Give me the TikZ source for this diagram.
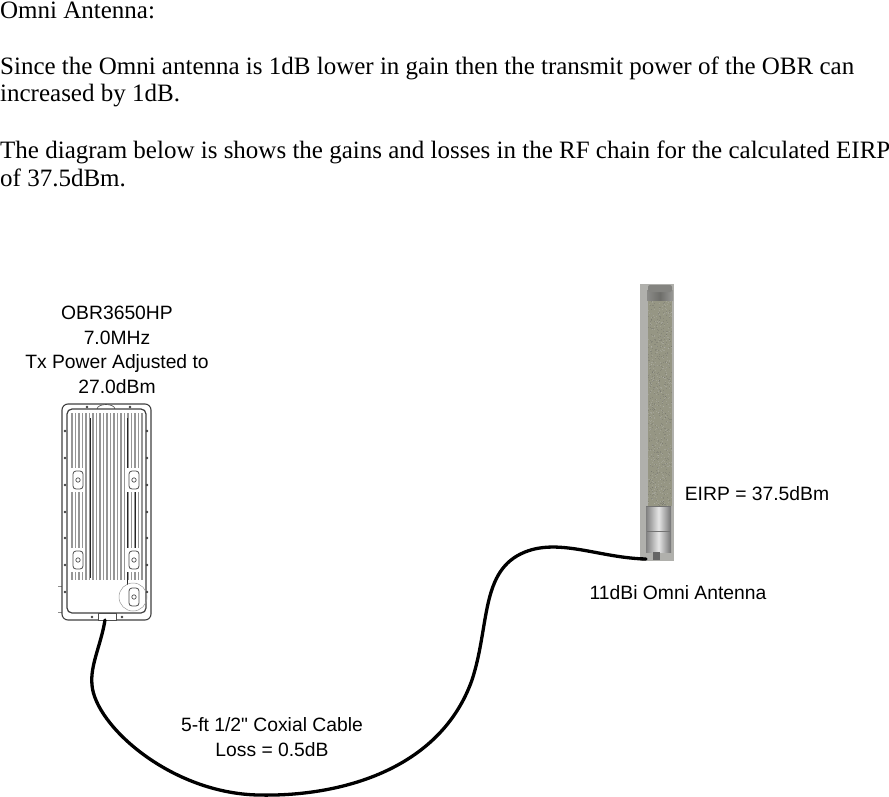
\documentclass[tikz,border=0pt]{standalone}
\usepackage{fontspec}
\setmainfont{Liberation Serif}
\newfontfamily\labelfont{Liberation Sans}
\definecolor{photobg}{RGB}{176,176,172}
\definecolor{tubecol}{RGB}{150,150,132}
\definecolor{capcol}{RGB}{110,110,106}
\definecolor{fincol}{RGB}{150,150,150}
\tikzset{
 bodytext/.style={anchor=base west,inner sep=0pt,font=\fontsize{25}{25}\selectfont},
 lbl/.style={align=center,inner sep=0pt,font=\labelfont\fontsize{19.3}{24.5}\selectfont},
 shell/.style={draw=black!75,line width=1.1pt,fill=white},
 fin/.style={draw=fincol,line width=1.5pt},
 darkline/.style={draw=black!85,line width=0.9pt},
 thin line/.style={draw=black!45,line width=0.5pt},
 screw/.style={fill=black!75,draw=none},
 cable/.style={draw=black,line width=3.3pt,line cap=round}
}
\begin{document}
\begin{tikzpicture}[x=1pt,y=-1pt]
\useasboundingbox (0,0) rectangle (889,797);
% text
\node[bodytext] (t1) at (0,19) {Omni Antenna:};
\node[bodytext] (t2) at (0,75) {Since the Omni antenna is 1dB lower in gain then the transmit power of the OBR can};
\node[bodytext] (t3) at (0,102) {increased by 1dB.};
\node[bodytext] (t4) at (0,158) {The diagram below is shows the gains and losses in the RF chain for the calculated EIRP};
\node[bodytext] (t5) at (0,186) {of 37.5dBm.};
% labels
\node[lbl] (obr) at (117,350) {OBR3650HP\\7.0MHz\\Tx Power Adjusted to\\27.0dBm};
\node[lbl] (eirp) at (757,494) {EIRP = 37.5dBm};
\node[lbl] (omni) at (678,593) {11dBi Omni Antenna};
\node[lbl] (coax) at (272,737) {5-ft 1/2" Coxial Cable\\Loss = 0.5dB};
% router
\draw[thin line] (58,586) -- (122,586) (58,612) -- (70,612);
\draw[shell,rounded corners=6pt] (62,404) rectangle (151,620);
\draw[shell,line width=0.6pt] (97,409) .. controls (98,403) and (114,403) .. (115,409);
\draw[shell,rounded corners=5pt,line width=1.2pt] (67,409) rectangle (146,613);
\foreach \x in {72,75.5,...,143} \draw[fin] (\x,413) -- (\x,580);
\draw[darkline] (90,418) -- (90,578);
\draw[darkline] (127,418) -- (127,608);
\draw[darkline] (135,488) -- (135,553);
\foreach \x/\y in {78/480,134/480,78/560,134/560,134/597}{
 \fill[white] (\x-7,\y-12) rectangle (\x+7,\y+12);
 \draw[black!70,rounded corners=3pt,line width=0.8pt] (\x-5,\y-9) rectangle (\x+5,\y+9);
 \draw[black!70,line width=0.7pt] (\x,\y) circle (2.2);
}
\draw[black!40,line width=0.5pt] (133,597) circle (14);
\foreach \y in {431,458,485,512,538,565,592}{
 \fill[screw] (65,\y) circle (1.3);
 \fill[screw] (147,\y) circle (1.3);
}
\foreach \x/\y in {87/407,130/407,92/617,122/617}
 \fill[screw] (\x,\y) circle (1.3);
\draw[black!70,fill=white,line width=0.7pt] (98,613) rectangle (116,620);
\coordinate (routerport) at (105,620);
% antenna
\fill[photobg] (640,284) rectangle (674,561);
\fill[tubecol] (648,300) rectangle (672,506);
\pgfmathsetseed{7}
\foreach \i in {1,...,900}{
 \pgfmathsetmacro{\px}{648+23*rnd}
 \pgfmathsetmacro{\py}{300+205*rnd}
 \pgfmathsetmacro{\sh}{rnd<0.5 ? 20 : 65}
 \fill[black!\sh!white,opacity=.25] (\px,\py) rectangle ++(1,1);
}
\shade[left color=capcol!80,right color=capcol!70,middle color=capcol] (647,290) rectangle (673,300);
\fill[capcol!85,rounded corners=2pt] (648,285) rectangle (672,292);
\shade[left color=black!50,right color=black!55,middle color=black!10] (646,506) rectangle (671,552);
\draw[black!55,line width=0.6pt] (646,506) -- (671,506) (647,531) -- (670,531);
\fill[black!60] (653,552) rectangle (660,560);
\coordinate (antport) at (646,559);
% cable
\draw[cable] (routerport) .. controls (101,645) and (90,665) .. (92,685)
 .. controls (95,725) and (170,793) .. (258,795)
 .. controls (340,797) and (440,770) .. (472,680)
 .. controls (490,625) and (480,570) .. (525,552)
 .. controls (560,538) and (600,558) .. (antport);
\end{tikzpicture}
\end{document}
